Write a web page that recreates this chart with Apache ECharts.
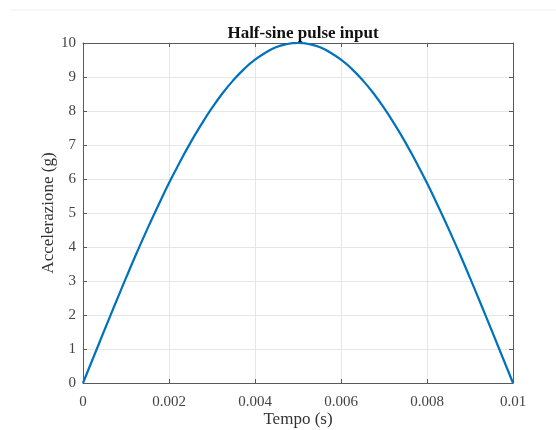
<!DOCTYPE html>
<html>
<head>
<meta charset="utf-8">
<script src="https://cdn.jsdelivr.net/npm/echarts@6/dist/echarts.min.js"></script>
<style>html,body{margin:0;padding:0;background:#fff;}#c{width:556px;height:430px;}</style>
</head>
<body>
<div id="c"></div>
<script>
var timeValues = [0,0.00025,0.0005,0.00075,0.001,0.00125,0.0015,0.00175,0.002,0.00225,0.0025,0.00275,0.003,0.00325,0.0035,0.00375,0.004,0.00425,0.0045,0.00475,0.005,0.00525,0.0055,0.00575,0.006,0.00625,0.0065,0.00675,0.007,0.00725,0.0075,0.00775,0.008,0.00825,0.0085,0.00875,0.009,0.00925,0.0095,0.00975,0.01];
var accelValues = [0,0.78,1.56,2.33,3.09,3.83,4.54,5.22,5.88,6.49,7.07,7.60,8.09,8.53,8.91,9.24,9.51,9.72,9.88,9.97,10,9.97,9.88,9.72,9.51,9.24,8.91,8.53,8.09,7.60,7.07,6.49,5.88,5.22,4.54,3.83,3.09,2.33,1.56,0.78,0];
var xTickLabels = ['0','0.002','0.004','0.006','0.008','0.01'];
var titleText = 'Half-sine pulse input';
var xName = 'Tempo (s)';
var yName = 'Accelerazione (g)';

var seriesData = timeValues.map(function(t,i){return [t, accelValues[i]];});
var font = 'Liberation Serif';
var axisCol = '#5a5a5a';
var chart = echarts.init(document.getElementById('c'));
chart.setOption({
  animation:false,
  backgroundColor:'#fff',
  title:{text:titleText,left:298,top:20,textAlign:'center',
    textStyle:{fontFamily:font,fontSize:17,fontWeight:'bold',color:'#111'}},
  grid:{left:83,right:43,top:43,bottom:47,containLabel:false,outerBoundsMode:'none'},
  graphic:[{type:'line',shape:{x1:10,y1:10,x2:556,y2:10},style:{stroke:'#eee',lineWidth:1}}],
  xAxis:[{type:'value',min:0,max:0.01,interval:0.002,position:'bottom',
    name:xName,nameLocation:'middle',nameGap:28,nameMoveOverlap:false,
    nameTextStyle:{fontFamily:font,fontSize:17,color:'#333'},
    axisLine:{show:true,onZero:false,lineStyle:{color:axisCol,width:1}},
    axisTick:{show:true,inside:true,length:4,lineStyle:{color:axisCol}},
    axisLabel:{fontFamily:font,fontSize:15,color:'#444',margin:12,
      formatter:function(v){var i=Math.round(v/0.002);return xTickLabels[i];}},
    splitLine:{show:true,lineStyle:{color:'#e6e6e6',width:1}}},
   {type:'value',min:0,max:0.01,interval:0.002,position:'top',
    axisLine:{show:true,onZero:false,lineStyle:{color:axisCol,width:1}},
    axisTick:{show:true,inside:true,length:4,lineStyle:{color:axisCol}},
    axisLabel:{show:false},splitLine:{show:false}}],
  yAxis:[{type:'value',min:0,max:10,interval:1,position:'left',
    name:yName,nameLocation:'middle',nameGap:26,nameMoveOverlap:false,
    nameTextStyle:{fontFamily:font,fontSize:17,color:'#333'},
    axisLine:{show:true,onZero:false,lineStyle:{color:axisCol,width:1}},
    axisTick:{show:true,inside:true,length:4,lineStyle:{color:axisCol}},
    axisLabel:{fontFamily:font,fontSize:15,color:'#444',margin:7},
    splitLine:{show:true,lineStyle:{color:'#e6e6e6',width:1}}},
   {type:'value',min:0,max:10,interval:1,position:'right',
    axisLine:{show:true,onZero:false,lineStyle:{color:axisCol,width:1}},
    axisTick:{show:true,inside:true,length:4,lineStyle:{color:axisCol}},
    axisLabel:{show:false},splitLine:{show:false}}],
  series:[{type:'line',data:seriesData,smooth:true,showSymbol:false,
    lineStyle:{color:'#0072BD',width:2.2},xAxisIndex:0,yAxisIndex:0}]
});
</script>
</body>
</html>
